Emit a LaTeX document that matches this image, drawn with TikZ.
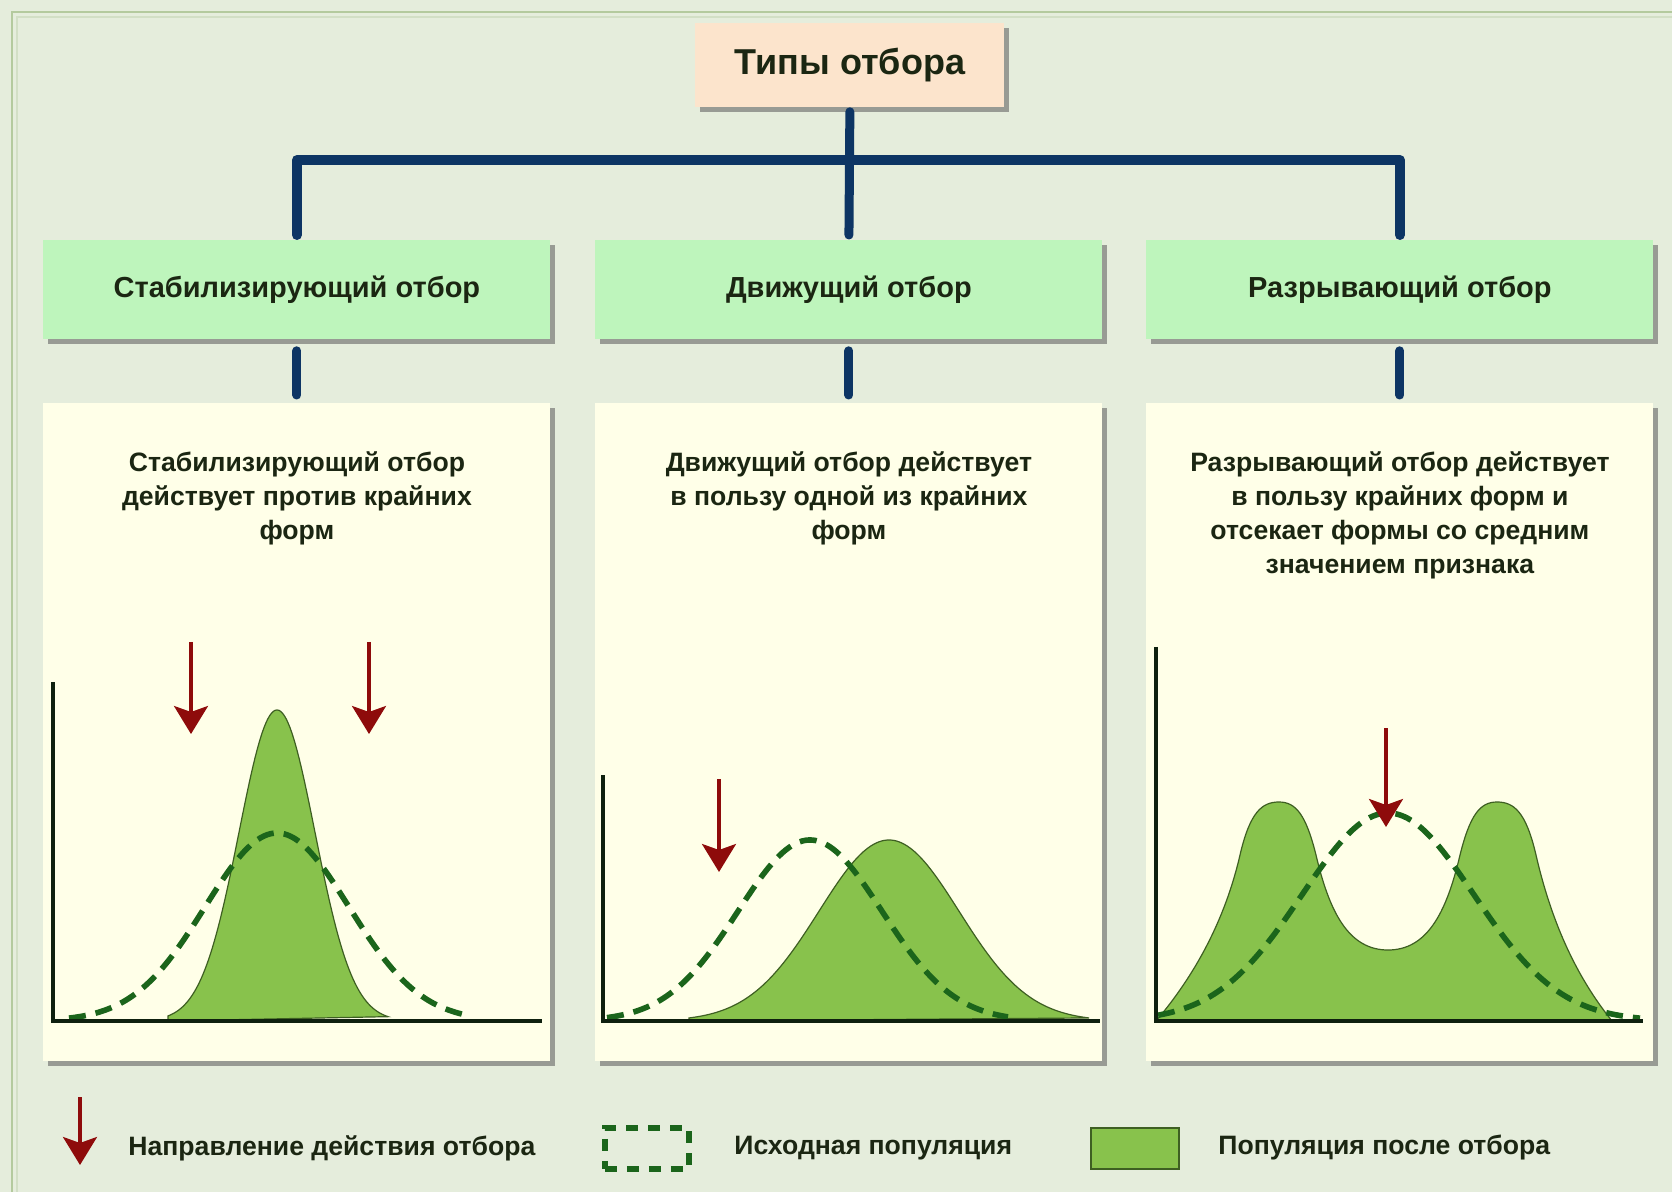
\documentclass[tikz,border=0pt]{standalone}
\usepackage{fontspec}
\setmainfont{Liberation Sans}
\usetikzlibrary{shadows,arrows.meta}
\definecolor{bg}{HTML}{E5EDDC}
\definecolor{framec}{HTML}{B4CA9E}
\definecolor{peach}{HTML}{FCE4CC}
\definecolor{hdr}{HTML}{BEF5BC}
\definecolor{cream}{HTML}{FFFFE8}
\definecolor{navy}{HTML}{0D3564}
\definecolor{txt}{HTML}{1B2612}
\definecolor{fillg}{HTML}{88C24C}
\definecolor{edgeg}{HTML}{3E5F22}
\definecolor{dashg}{HTML}{1B651B}
\definecolor{arrowred}{HTML}{8E0B0B}
\definecolor{axisc}{HTML}{0E200E}
\begin{document}
\begin{tikzpicture}[x=0.5pt,y=-0.5pt,
  declare function={g(\x,\m,\s)=exp(-0.5*((\x-\m)/\s)*((\x-\m)/\s));},
  box/.style={draw=none, inner sep=0pt, anchor=north west,
    drop shadow={shadow xshift=2.5pt, shadow yshift=-2.5pt, fill=black!65, opacity=0.55}},
  titlebox/.style={box, fill=peach, minimum width=154.5pt, minimum height=42pt,
    font=\fontsize{18}{21}\selectfont\bfseries, text=txt},
  headbox/.style={box, fill=hdr, minimum width=253.5pt, minimum height=49.5pt,
    font=\fontsize{14.5}{17}\selectfont\bfseries, text=txt},
  panel/.style={box, fill=cream, minimum width=253.5pt, minimum height=329pt},
  ptext/.style={anchor=north, align=center, inner sep=0pt, text=txt,
    font=\fontsize{13.3}{17}\selectfont\bfseries},
  legtext/.style={anchor=west, inner sep=0pt, text=txt,
    font=\fontsize{13.3}{15}\selectfont\bfseries},
  conn/.style={draw=navy, line width=4.5pt, line cap=round, line join=round},
  popfill/.style={fill=fillg, draw=edgeg, line width=0.6pt},
  popdash/.style={draw=dashg, line width=2.8pt, dash pattern=on 8.5pt off 5pt},
  axisline/.style={draw=axisc, line width=1.6pt},
  redarrow/.style={draw=arrowred, line width=1.6pt, -{Stealth[length=14pt,width=17pt,inset=3pt]}, fill=arrowred}
]
\useasboundingbox (0,0) rectangle (1672,1192);
\fill[bg] (0,0) rectangle (1672,1192);
\draw[framec, line width=1.2pt] (12,1192) -- (12,12) -- (1672,12);
\draw[framec!60!white, line width=1pt] (17,1192) -- (17,17) -- (1672,17);

% boxes
\node[titlebox] (t) at (695,23) {Типы отбора};
\node[headbox] (h1) at (43,240) {Стабилизирующий отбор};
\node[headbox] (h2) at (595,240) {Движущий отбор};
\node[headbox] (h3) at (1146,240) {Разрывающий отбор};
\node[panel] (p1) at (43,403) {};
\node[panel] (p2) at (595,403) {};
\node[panel] (p3) at (1146,403) {};

% connectors
\coordinate (bar) at (850,160);
\draw[conn, shorten <=2pt, shorten >=2.5pt] (t.south) -- (h2.north);
\draw[conn, line width=5pt, shorten <=2.5pt, shorten >=2.5pt] (h1.north) -- (h1.north |- bar) -- (h3.north |- bar) -- (h3.north);
\draw[conn, shorten <=5.5pt, shorten >=4pt] (h1.south) -- (p1.north);
\draw[conn, shorten <=5.5pt, shorten >=4pt] (h2.south) -- (p2.north);
\draw[conn, shorten <=5.5pt, shorten >=4pt] (h3.south) -- (p3.north);

% panel texts
\node[ptext] (d1) at ([yshift=-24pt]p1.north) {Стабилизирующий отбор\\действует против крайних\\форм};
\node[ptext] (d2) at ([yshift=-24pt]p2.north) {Движущий отбор действует\\в пользу одной из крайних\\форм};
\node[ptext] (d3) at ([yshift=-24pt]p3.north) {Разрывающий отбор действует\\в пользу крайних форм и\\отсекает формы со средним\\значением признака};

% graph 1
\path[popfill] (168,1021) -- plot[domain=168:388,samples=120] (\x,{1021-311*g(\x,277,38)}) -- cycle;
\draw[popdash] plot[domain=69:469,samples=120] (\x,{1021-188*g(\x,277,72)});
\draw[axisline] (53,682) -- (53,1021) -- (542,1021);
\coordinate (a1s) at (191,642); \coordinate (a1e) at (191,734);
\coordinate (a2s) at (369,642); \coordinate (a2e) at (369,734);
\draw[redarrow] (a1s) -- (a1e);
\draw[redarrow] (a2s) -- (a2e);

% graph 2
\path[popfill] (689,1021) -- plot[domain=689:1089,samples=120] (\x,{1021-181*g(\x,889,70)}) -- cycle;
\draw[popdash] plot[domain=607:1008,samples=120] (\x,{1021-181*g(\x,810,72)});
\draw[axisline] (603,775) -- (603,1021) -- (1100,1021);
\coordinate (a3s) at (719,779); \coordinate (a3e) at (719,872);
\draw[redarrow] (a3s) -- (a3e);

% graph 3
\path[popfill] (1156,1021) .. controls (1195,975) and (1225,920) .. (1240,855)
  .. controls (1250,812) and (1262,802) .. (1279,802)
  .. controls (1296,802) and (1306,815) .. (1316,855)
  .. controls (1330,915) and (1350,950) .. (1388,950)
  .. controls (1426,950) and (1446,915) .. (1460,855)
  .. controls (1470,815) and (1480,802) .. (1497,802)
  .. controls (1514,802) and (1526,812) .. (1536,855)
  .. controls (1551,920) and (1575,975) .. (1612,1021) -- cycle;
\draw[popdash] plot[domain=1158:1640,samples=140] (\x,{1021-208*g(\x,1388,86)});
\draw[axisline] (1156,647) -- (1156,1021) -- (1643,1021);
\coordinate (a4s) at (1386,728); \coordinate (a4e) at (1386,827);
\draw[redarrow] (a4s) -- (a4e);

% legend
\coordinate (las) at (80,1097); \coordinate (lae) at (80,1165);
\draw[redarrow] (las) -- (lae);
\node[legtext] (l1) at (128,1148) {Направление действия отбора};
\node[draw=dashg, line width=2.8pt, dash pattern=on 6pt off 5pt, minimum width=42pt, minimum height=20.5pt, inner sep=0pt, anchor=north west] (ld) at (602,1125) {};
\node[legtext] (l2) at (734,1148) {Исходная популяция};
\node[popfill, line width=1pt, minimum width=44pt, minimum height=20.5pt, inner sep=0pt, anchor=north west] (lf) at (1090,1127) {};
\node[legtext] (l3) at (1218,1148) {Популяция после отбора};
\end{tikzpicture}
\end{document}
